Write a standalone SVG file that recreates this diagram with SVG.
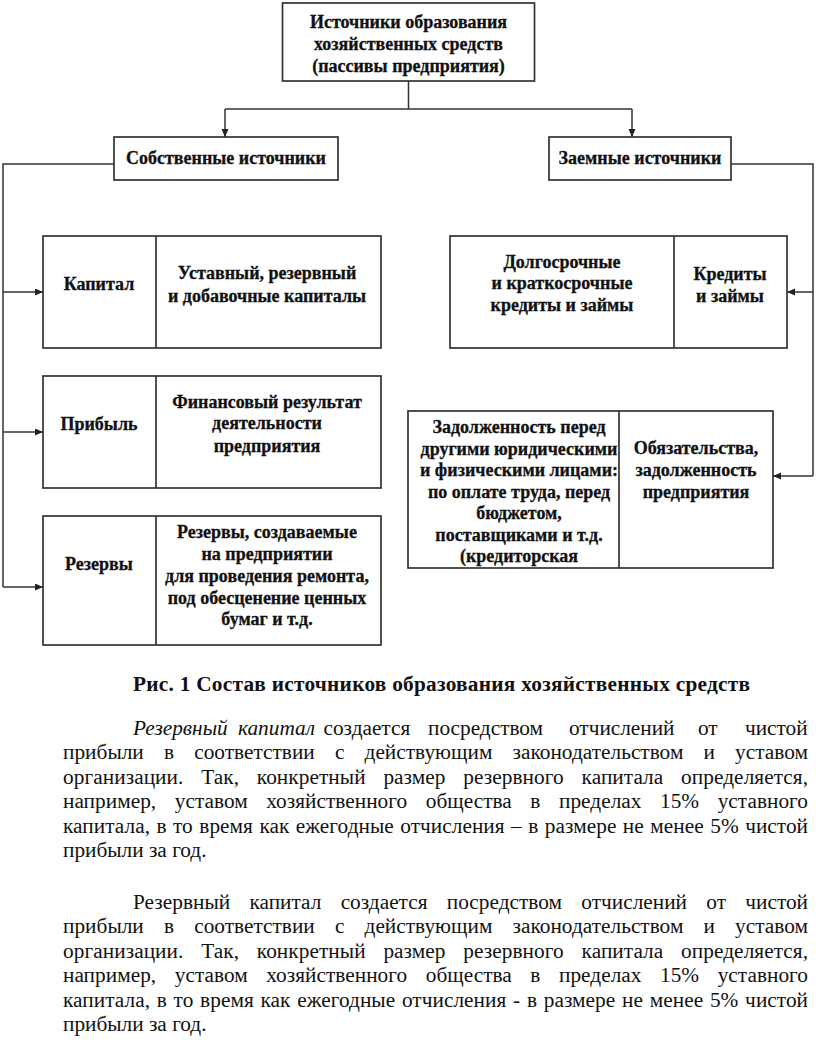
<svg xmlns="http://www.w3.org/2000/svg" width="816" height="1064" viewBox="0 0 816 1064">
<style>
.box{fill:#fff;stroke:#333;stroke-width:1.7}
.div{stroke:#333;stroke-width:1.7}
.con{fill:none;stroke:#333;stroke-width:1.5}
.t{font-family:"Liberation Serif","Times New Roman",serif;font-weight:bold;font-size:18px;fill:#111;stroke:#111;stroke-width:0.3;text-anchor:middle}
.cap{font-family:"Liberation Serif","Times New Roman",serif;font-weight:bold;font-size:21.3px;fill:#111}
.p{font-family:"Liberation Serif","Times New Roman",serif;font-size:21.3px;fill:#111}
</style>
<defs>
<marker id="ah" markerUnits="userSpaceOnUse" markerWidth="9" markerHeight="8" refX="8" refY="3.5" orient="auto">
<path d="M0,0 L8,3.5 L0,7 z" fill="#222"/>
</marker>
</defs>
<rect width="816" height="1064" fill="#fff"/>

<g id="connectors">
<path class="con" d="M408.5,81 V109 M225,109 H632"/>
<path class="con" d="M225,109 V137" marker-end="url(#ah)"/>
<path class="con" d="M632,109 V137" marker-end="url(#ah)"/>
<path class="con" d="M114,164 H3 V587"/>
<path class="con" d="M3,292 H43" marker-end="url(#ah)"/>
<path class="con" d="M3,432 H43" marker-end="url(#ah)"/>
<path class="con" d="M3,587 H43" marker-end="url(#ah)"/>
<path class="con" d="M731,164 H813 V476"/>
<path class="con" d="M813,292 H787" marker-end="url(#ah)"/>
<path class="con" d="M813,476 H773" marker-end="url(#ah)"/>
</g>

<g id="node-root">
<rect class="box" x="282.5" y="3" width="252" height="78"/>
<text class="t" x="408.5" y="27.5">Источники образования</text>
<text class="t" x="408.5" y="49.5">хозяйственных средств</text>
<text class="t" x="408.5" y="72">(пассивы предприятия)</text>
</g>

<g id="node-own">
<rect class="box" x="114" y="137" width="224" height="43"/>
<text class="t" x="226" y="164">Собственные источники</text>
</g>

<g id="node-borrowed">
<rect class="box" x="549" y="137" width="182" height="43"/>
<text class="t" x="640" y="164">Заемные источники</text>
</g>

<g id="node-capital">
<rect class="box" x="43" y="236" width="338" height="112"/>
<line class="div" x1="156" y1="236" x2="156" y2="348"/>
<text class="t" x="99" y="290">Капитал</text>
<text class="t" x="267" y="279">Уставный, резервный</text>
<text class="t" x="267" y="302">и добавочные капиталы</text>
</g>

<g id="node-profit">
<rect class="box" x="43" y="376" width="338" height="112"/>
<line class="div" x1="156" y1="376" x2="156" y2="488"/>
<text class="t" x="99" y="430">Прибыль</text>
<text class="t" x="267" y="408">Финансовый результат</text>
<text class="t" x="267" y="429">деятельности</text>
<text class="t" x="267" y="452">предприятия</text>
</g>

<g id="node-reserves">
<rect class="box" x="43" y="516" width="338" height="129"/>
<line class="div" x1="156" y1="516" x2="156" y2="645"/>
<text class="t" x="99" y="570">Резервы</text>
<text class="t" x="267" y="538">Резервы, создаваемые</text>
<text class="t" x="267" y="560">на предприятии</text>
<text class="t" x="267" y="582">для проведения ремонта,</text>
<text class="t" x="267" y="603.5">под обесценение ценных</text>
<text class="t" x="267" y="625">бумаг  и т.д.</text>
</g>

<g id="node-credits">
<rect class="box" x="450" y="236" width="337" height="112"/>
<line class="div" x1="674" y1="236" x2="674" y2="348"/>
<text class="t" x="562" y="268">Долгосрочные</text>
<text class="t" x="562" y="289">и краткосрочные</text>
<text class="t" x="562" y="311">кредиты и займы</text>
<text class="t" x="730" y="280">Кредиты</text>
<text class="t" x="730" y="302">и займы</text>
</g>

<g id="node-liabilities">
<rect class="box" x="408" y="411" width="365" height="157"/>
<line class="div" x1="619" y1="411" x2="619" y2="568"/>
<text class="t" x="519" y="433">Задолженность перед</text>
<text class="t" x="519" y="454.5">другими юридическими</text>
<text class="t" x="519" y="476">и физическими лицами:</text>
<text class="t" x="519" y="497.5">по оплате труда, перед</text>
<text class="t" x="519" y="519">бюджетом,</text>
<text class="t" x="519" y="540.5">поставщиками и т.д.</text>
<text class="t" x="519" y="562">(кредиторская</text>
<text class="t" x="696" y="454">Обязательства,</text>
<text class="t" x="696" y="476">задолженность</text>
<text class="t" x="696" y="498">предприятия</text>
</g>

<text class="cap" x="133" y="691" textLength="617" lengthAdjust="spacing">Рис. 1 Состав источников образования хозяйственных средств</text>

<text class="p" y="735"><tspan x="133" font-style="italic">Резервный</tspan><tspan x="238" font-style="italic">капитал</tspan><tspan x="323.5">создается</tspan><tspan x="428">посредством</tspan><tspan x="569">отчислений</tspan><tspan x="698">от</tspan><tspan x="745">чистой</tspan></text>
<text class="p" x="63" y="759.4" word-spacing="14.8" textLength="745" lengthAdjust="spacing">прибыли в соответствии с действующим законодательством и уставом</text>
<text class="p" x="63" y="783.8" word-spacing="12.4" textLength="745" lengthAdjust="spacing">организации. Так, конкретный размер резервного капитала определяется,</text>
<text class="p" x="63" y="808.2" word-spacing="13.2" textLength="745" lengthAdjust="spacing">например, уставом хозяйственного общества в пределах 15% уставного</text>
<text class="p" x="63" y="832.6" word-spacing="1.1" textLength="745" lengthAdjust="spacing">капитала, в то время как ежегодные отчисления – в размере не менее 5% чистой</text>
<text class="p" x="63" y="857">прибыли за год.</text>

<text class="p" x="133" y="909" word-spacing="13.9" textLength="675" lengthAdjust="spacing">Резервный капитал создается посредством отчислений от чистой</text>
<text class="p" x="63" y="933.4" word-spacing="14.8" textLength="745" lengthAdjust="spacing">прибыли в соответствии с действующим законодательством и уставом</text>
<text class="p" x="63" y="957.8" word-spacing="12.4" textLength="745" lengthAdjust="spacing">организации. Так, конкретный размер резервного капитала определяется,</text>
<text class="p" x="63" y="982.2" word-spacing="13.2" textLength="745" lengthAdjust="spacing">например, уставом хозяйственного общества в пределах 15% уставного</text>
<text class="p" x="63" y="1006.6" word-spacing="1.35" textLength="745" lengthAdjust="spacing">капитала, в то время как ежегодные отчисления - в размере не менее 5% чистой</text>
<text class="p" x="63" y="1031">прибыли за год.</text>
</svg>
